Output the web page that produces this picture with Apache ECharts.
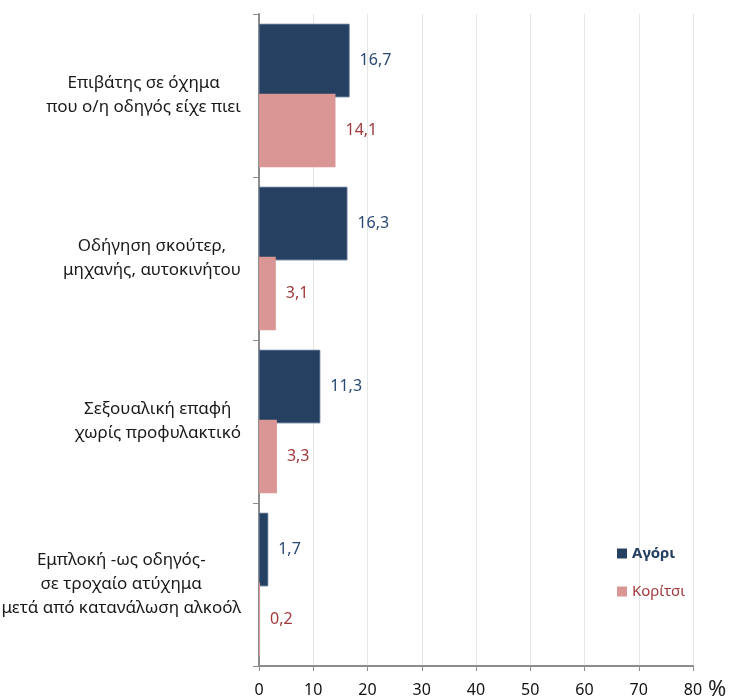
<!DOCTYPE html>
<html>
<head>
<meta charset="utf-8">
<script src="https://cdn.jsdelivr.net/npm/echarts@6/dist/echarts.min.js"></script>
<style>
  html, body { margin: 0; padding: 0; background: #fff; }
  #chart { width: 746px; height: 700px; }
</style>
</head>
<body>
<div id="chart"></div>
<script>
const categories = [
  "Επιβάτης σε όχημα\nπου ο/η οδηγός είχε πιει",
  "Οδήγηση σκούτερ,\nμηχανής, αυτοκινήτου",
  "Σεξουαλική επαφή\nχωρίς προφυλακτικό",
  "Εμπλοκή -ως οδηγός-\nσε τροχαίο ατύχημα\nμετά από κατανάλωση αλκοόλ"
];
const boys = [16.7, 16.3, 11.3, 1.7];
const girls = [14.1, 3.1, 3.3, 0.2];
const xTicks = [0, 10, 20, 30, 40, 50, 60, 70, 80];

const FONT = "Noto Sans";
const BLUE = "#254061", PINK = "#D99694";
const BLUE_TXT = "#2B4A73", RED_TXT = "#A0393A";

const chart = echarts.init(document.getElementById("chart"));

const fmt = (p) => String(p.value).replace(".", ",");

chart.setOption({
  animation: false,
  textStyle: { fontFamily: FONT },
  grid: { left: 259, right: 53, top: 14, bottom: 34, outerBoundsMode: "none", containLabel: false },
  legend: {
    orient: "vertical",
    left: 617,
    top: 546,
    padding: 0,
    itemWidth: 10,
    itemHeight: 10,
    itemGap: 23,
    icon: "rect",
    itemStyle: { borderWidth: 0 },
    data: [
      { name: "Αγόρι", textStyle: { color: BLUE, fontWeight: "bold", fontSize: 15, fontFamily: FONT } },
      { name: "Κορίτσι", textStyle: { color: RED_TXT, fontSize: 15, fontFamily: FONT } }
    ]
  },
  xAxis: {
    type: "value",
    min: 0,
    max: 80,
    interval: 10,
    name: "%",
    nameLocation: "end",
    nameGap: 12,
    nameTextStyle: { fontSize: 22, color: "#222", verticalAlign: "top", padding: [13, 0, 0, 0], fontFamily: FONT },
    axisLine: { show: true, lineStyle: { color: "#8c8c8c", width: 2 } },
    axisTick: { show: true, length: 5, lineStyle: { color: "#8c8c8c" } },
    axisLabel: { fontSize: 16, color: "#111", margin: 16, formatter: (v) => xTicks.includes(v) ? String(v) : "" },
    splitLine: { show: true, lineStyle: { color: "#e6e6e6" } }
  },
  yAxis: {
    type: "category",
    inverse: true,
    data: categories,
    axisLine: { show: true, lineStyle: { color: "#8c8c8c", width: 2 } },
    axisTick: { show: true, length: 6, lineStyle: { color: "#8c8c8c" } },
    axisLabel: {
      margin: 18,
      formatter: (v) => v.split("\n").map((l) => "{c|" + l + "}").join("\n"),
      rich: { c: { align: "center", fontSize: 17, lineHeight: 24, color: "#1a1a1a", fontFamily: FONT } }
    }
  },
  series: [
    {
      name: "Αγόρι",
      type: "bar",
      data: boys,
      barCategoryGap: "12%",
      barGap: "-5%",
      itemStyle: { color: BLUE, borderColor: "#4a6283", borderWidth: 1 },
      label: { show: true, position: "right", distance: 10, fontSize: 16, color: BLUE_TXT, formatter: fmt }
    },
    {
      name: "Κορίτσι",
      type: "bar",
      data: girls,
      barCategoryGap: "12%",
      barGap: "-5%",
      itemStyle: { color: PINK },
      label: { show: true, position: "right", distance: 10, fontSize: 16, color: RED_TXT, formatter: fmt }
    }
  ]
});
</script>
</body>
</html>
